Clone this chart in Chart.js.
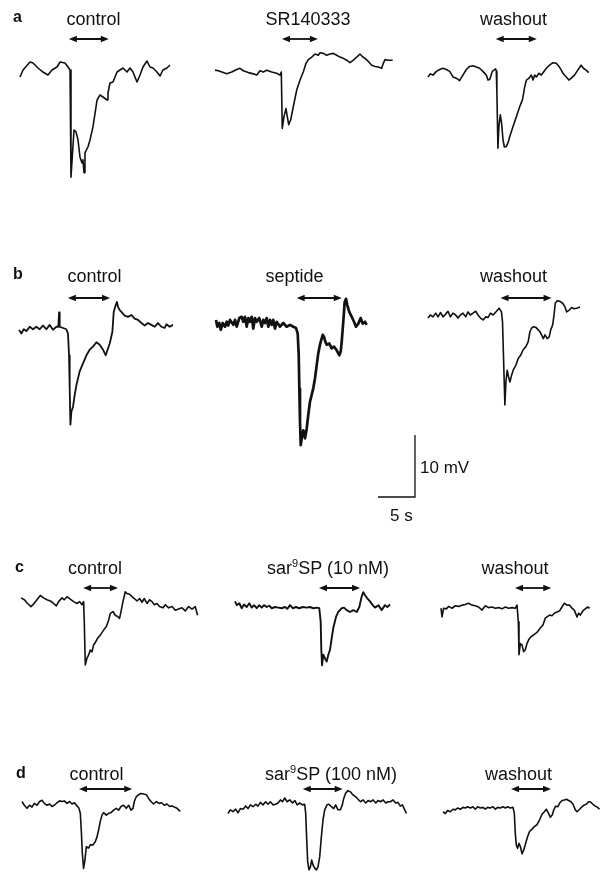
<!DOCTYPE html>
<html>
<head>
<meta charset="utf-8">
<script src="https://cdn.jsdelivr.net/npm/chart.js@4.4.1/dist/chart.umd.min.js"></script>
<style>
  body { margin: 0; background: #fff; }
  #fig { position: relative; width: 600px; height: 872px; overflow: hidden; font-family: "Liberation Sans", Arial, sans-serif; color: #111; }
  #fig canvas { position: absolute; }
  .txt { position: absolute; white-space: nowrap; }
  .sup { position: relative; top: -7px; font-size: 11px; line-height: 0; }
</style>
</head>
<body>
<div id="fig"></div>
<script>
// traces: time in s from trace start, membrane potential in mV from resting level
const a1Time = [0,0.41,1.35,1.76,2.43,3.11,3.78,4.32,5.0,5.41,6.08,6.49,6.76,6.89,7.30,7.57,7.84,8.11,8.38,8.51,8.65,8.78,9.19,9.46,9.86,10.41,10.81,11.22,11.76,11.89,12.16,12.57,13.11,13.51,13.92,14.46,14.86,15.27,15.81,16.22,16.62,17.16,17.57,17.97,18.51,18.92,19.32,19.86,20.27];
const a1Volt = [-1.45,-0.32,0.97,0.81,0,-0.65,-1.13,-0.32,0.16,0.97,0.81,0.16,-0.32,-17.6,-10.0,-10.3,-11.6,-14.4,-15.3,-14.8,-16.9,-13.7,-12.7,-11.6,-9.5,-5.2,-4.35,-4.68,-5.16,-4.03,-2.42,-2.26,-0.65,-0.32,0,-0.65,0,-0.65,-2.26,-1.13,0.16,1.13,0.16,0,-0.65,-1.29,-0.32,0,0.48];

const a2Time = [0,0.45,1.12,1.58,2.26,2.93,3.38,3.82,4.5,5.18,5.64,6.08,6.53,6.99,7.66,8.34,8.78,8.96,9.09,9.32,9.59,9.77,9.96,10.23,10.58,11.04,11.49,11.93,12.3,12.61,13.07,13.51,13.96,14.19,14.64,15.09,15.54,15.99,16.45,16.89,17.34,17.8,18.24,18.69,19.15,19.59,19.91,20.27,20.72,21.18,21.62,22.07,22.53,22.74,22.97,23.42,24.01];
const a2Volt = [0.3,0.2,-0.1,-0.3,0.0,0.4,0.6,0.2,-0.1,-0.3,-0.5,0.2,0.0,0.3,0.0,-0.2,-0.5,0.0,-9.1,-7.2,-5.9,-7.2,-8.5,-7.7,-5.6,-2.9,-1.3,0.0,1.4,2.0,2.4,2.9,2.7,3.1,3.0,2.7,2.9,3.0,2.7,2.4,2.2,1.9,1.5,1.9,2.4,2.9,2.5,2.2,1.7,1.1,0.9,0.8,0.6,1.4,2.0,1.9,1.9];

const a3Time = [0,0.32,0.68,1.13,1.58,2.03,2.48,2.93,3.38,3.82,4.27,4.72,5.18,5.62,6.07,6.53,6.97,7.42,7.88,8.11,8.34,8.69,9.14,9.23,9.31,9.45,9.58,9.77,9.95,10.13,10.32,10.59,10.82,11.05,11.49,11.94,12.39,12.76,13.07,13.3,13.65,13.97,14.19,14.42,14.64,14.99,15.31,15.62,15.99,16.43,16.88,17.34,17.7,18.01,18.24,18.69,19.04,19.36,19.8,20.24,20.69,21.0,21.37,21.72];
const a3Volt = [-0.8,-0.3,-0.5,0.1,0.4,0.6,0.4,0.1,-0.8,-1.0,-1.4,-0.5,0.4,0.9,1.0,0.8,0.6,0.1,-0.5,-1.3,-1.2,0.1,0.5,0.1,-3.4,-12.3,-8.8,-6.9,-8.3,-10.9,-12.1,-12.0,-11.4,-10.4,-8.8,-7.2,-5.6,-4.5,-2.4,-1.3,-1.0,-0.5,-1.3,-0.5,-0.8,-0.2,-0.5,0.0,0.6,1.1,1.5,1.4,0.9,0.3,-0.2,-0.8,-1.3,-1.0,-0.5,0.3,1.1,0.6,0.3,-0.1];

const b1Time = [0,0.32,0.64,1.0,1.45,1.89,2.35,2.8,3.24,3.7,4.15,4.59,5.05,5.32,5.41,5.5,5.95,6.4,6.62,6.76,6.85,6.95,7.08,7.3,7.53,7.76,8.2,8.65,9.11,9.55,10.0,10.46,10.91,11.35,11.72,11.89,12.26,12.62,12.8,13.07,13.24,13.38,13.61,13.84,14.28,14.73,15.19,15.64,16.08,16.54,16.99,17.43,17.89,18.34,18.78,19.24,19.69,19.92,20.36,20.81];
const b1Volt = [-0.3,-0.9,-0.2,-0.5,0.2,-0.2,0.2,-0.2,0.4,-0.2,0.5,-0.3,0.2,0.2,2.5,0.2,0.0,-0.2,-0.9,-4.4,-9.7,-15.6,-13.5,-12.7,-10.8,-9.2,-7.0,-5.7,-4.4,-3.5,-3.0,-2.3,-2.7,-3.5,-4.4,-3.8,-2.5,-0.6,2.6,3.7,4.2,3.4,2.9,2.6,2.0,1.8,2.1,1.5,1.3,0.8,0.4,0.8,0.5,0.2,0.8,0.2,0.0,0.6,0.2,0.5];

const b2Time = [0,0.18,0.45,0.64,0.91,1.22,1.45,1.66,1.89,2.34,2.57,2.8,3.15,3.47,3.69,3.92,4.15,4.37,4.59,4.82,5.04,5.27,5.5,5.85,6.18,6.39,6.62,6.85,7.07,7.3,7.53,7.74,7.97,8.2,8.65,9.09,9.55,10.0,10.45,10.81,11.04,11.18,11.26,11.35,11.45,11.62,11.8,12.03,12.26,12.47,12.7,12.93,13.15,13.38,13.61,13.82,14.05,14.42,14.59,14.77,14.96,15.31,15.63,15.95,16.31,16.66,16.85,16.99,17.2,17.39,17.57,17.74,18.01,18.34,18.65,18.92,19.23,19.55,19.82,20.14,20.36];
const b2Volt = [0.5,-0.6,0.0,-1.1,0.0,-0.6,0.2,-0.4,0.5,-0.3,0.5,-0.6,0.8,1.0,0.2,1.0,-0.6,0.8,0.2,1.0,-0.9,0.8,0.2,0.8,-0.6,0.5,0.0,0.8,-0.6,0.5,-0.3,0.5,-0.9,0.2,-0.6,0.0,-0.6,-0.3,-0.6,-0.8,-1.7,-5.2,-10.6,-15.9,-19.7,-18.3,-17.3,-18.6,-17.0,-14.8,-12.7,-11.6,-10.5,-8.9,-6.8,-4.9,-3.5,-1.9,-2.2,-3.0,-3.5,-3.3,-4.1,-3.8,-4.4,-5.2,-4.6,-3.0,0.2,3.4,3.9,2.9,1.8,1.0,0.2,-0.6,-0.1,0.8,-0.1,0.2,-0.3];

const b3Time = [0,0.32,0.68,1.04,1.35,1.68,2.03,2.35,2.7,3.03,3.38,3.74,4.05,4.38,4.73,5.09,5.41,5.73,6.08,6.45,6.76,7.09,7.45,7.81,8.12,8.45,8.8,9.26,9.61,9.93,10.07,10.26,10.39,10.53,10.7,10.89,11.07,11.3,11.51,11.88,12.19,12.51,12.86,13.23,13.54,13.77,14.0,14.22,14.58,14.89,15.12,15.35,15.58,15.81,16.12,16.39,16.58,16.85,17.03,17.2,17.47,17.84,18.2,18.51,18.74,19.09,19.42,19.73,20.09,20.54];
const b3Volt = [-0.5,0.0,-0.3,0.3,-0.3,0.4,-0.3,0.1,0.6,-0.3,0.3,0.0,-0.5,0.0,0.3,-0.3,0.5,0.0,0.3,0.6,0.0,-0.5,-0.8,-0.3,-0.4,0.3,0.0,0.6,1.1,0.5,-1.1,-9.1,-14.5,-10.8,-8.9,-10.0,-10.8,-9.7,-8.9,-8.1,-7.0,-6.5,-5.6,-5.1,-4.3,-2.7,-2.1,-1.9,-2.0,-2.4,-2.7,-3.2,-3.8,-3.2,-3.8,-3.5,-2.4,-1.6,0.0,1.9,2.3,2.2,1.9,1.3,0.5,0.8,1.2,1.0,1.1,1.3];

const c1Time = [0,0.45,0.89,1.35,1.7,2.16,2.61,3.05,3.51,3.96,4.41,4.77,5.08,5.54,5.85,6.22,6.66,7.11,7.57,7.92,8.24,8.46,8.55,8.69,8.92,9.14,9.36,9.59,9.81,10.04,10.35,10.72,11.16,11.53,11.84,12.07,12.43,12.74,13.05,13.32,13.51,13.78,14.09,14.32,14.68,15.0,15.31,15.68,16.03,16.35,16.66,17.03,17.38,17.7,18.01,18.38,18.73,19.19,19.5,19.95,20.41,20.85,21.3,21.76,22.2,22.65,23.11,23.55,23.86];
const c1Volt = [0.5,0.2,-0.4,-0.9,-0.5,0.2,0.9,0.5,0.2,0.0,-0.4,-0.8,-0.1,0.5,0.2,0.7,0.3,-0.1,-0.4,-0.1,-0.6,-0.1,-3.3,-10.3,-9.2,-8.7,-7.9,-8.2,-7.1,-6.7,-6.0,-5.5,-4.7,-4.1,-3.1,-2.0,-1.7,-2.3,-2.5,-2.8,-1.7,-0.1,1.5,1.2,1.1,0.7,0.4,0.0,0.4,-0.2,0.4,-0.4,0.2,-0.1,-0.6,-0.4,-0.9,-1.1,-0.6,-1.1,-0.9,-1.5,-1.3,-1.1,-1.6,-0.9,-1.3,-0.9,-2.3];

const c2Time = [0,0.23,0.58,0.91,1.22,1.58,1.93,2.26,2.57,2.93,3.28,3.61,3.92,4.28,4.64,4.96,5.41,5.85,6.31,6.76,7.07,7.43,7.8,8.24,8.69,9.15,9.69,10.14,10.58,11.04,11.39,11.58,11.66,11.76,11.93,12.16,12.39,12.61,12.84,13.07,13.28,13.65,13.96,14.42,14.73,15.09,15.54,15.99,16.45,16.8,17.12,17.34,17.57,17.88,18.24,18.61,18.92,19.37,19.82,20.27,20.58,20.95];
const c2Volt = [0.9,0.3,0.6,-0.2,0.4,0.0,0.6,-0.1,0.3,-0.2,0.3,-0.1,0.3,0.0,0.2,-0.2,0.0,-0.1,-0.2,0.0,-0.3,0.3,-0.2,0.0,-0.2,0.0,-0.1,0.0,-0.2,-0.1,-0.2,-2.4,-6.7,-9.4,-7.7,-8.3,-8.8,-7.7,-6.9,-5.0,-3.4,-1.6,-0.8,-0.2,-0.1,-0.5,-0.8,-0.5,-0.8,0.0,1.7,2.4,1.9,1.4,0.9,0.3,-0.1,0.3,-0.5,0.3,0.0,0.4];

const c3Time = [0,0.14,0.35,0.72,1.03,1.49,1.93,2.38,2.84,3.28,3.73,4.19,4.64,5.08,5.54,5.99,6.43,6.89,7.34,7.78,8.24,8.69,9.14,9.59,10.04,10.27,10.45,10.54,10.72,10.95,11.16,11.39,11.62,11.84,12.16,12.51,12.97,13.42,13.78,14.09,14.32,14.68,15.0,15.31,15.68,16.03,16.35,16.66,17.03,17.38,17.7,18.01,18.38,18.6,18.82,19.19,19.5,19.82,20.09];
const c3Volt = [-0.2,-1.6,-0.2,-0.3,0.1,-0.2,0.2,0.1,0.3,0.4,0.6,0.3,0.2,0.0,-0.5,0.2,-0.1,0.0,-0.2,-0.1,-0.3,0.0,-0.2,-0.1,-0.2,0.3,-2.4,-7.7,-5.9,-6.1,-7.2,-6.9,-5.9,-5.3,-4.8,-4.5,-4.1,-3.4,-2.9,-1.8,-1.6,-1.3,-1.4,-1.0,-0.8,-0.6,0.0,0.6,0.3,0.3,-0.2,-0.5,-1.6,-1.0,-1.3,-0.6,-0.3,0.0,-0.2];

const d1Time = [0,0.31,0.68,1.03,1.35,1.66,2.03,2.38,2.7,3.01,3.38,3.73,4.05,4.36,4.73,5.08,5.41,5.72,6.08,6.43,6.76,7.07,7.43,7.7,7.88,8.01,8.15,8.32,8.51,8.69,9.0,9.23,9.59,9.9,10.14,10.35,10.58,10.81,11.03,11.39,11.7,12.03,12.38,12.74,13.05,13.38,13.73,14.09,14.41,14.73,15.0,15.18,15.45,15.76,16.08,16.43,16.8,17.11,17.43,17.78,18.15,18.51,18.86,19.23,19.59,19.95,20.27,20.58,20.95,21.39];
const d1Volt = [0.4,-0.2,-0.7,-0.2,-0.5,0.1,-0.2,0.4,0.6,0.1,-0.2,0.0,-0.4,-0.2,0.2,0.5,0.4,0.5,0.1,0.4,0.0,0.2,-0.3,-0.7,-1.5,-4.2,-7.9,-10.4,-9.0,-6.9,-7.1,-6.6,-6.6,-6.1,-5.3,-4.2,-2.8,-1.8,-1.4,-1.8,-1.5,-1.4,-1.0,-0.7,-1.0,-0.4,-0.2,-0.7,-0.2,-1.0,-0.7,0.4,1.2,1.5,1.7,1.6,1.5,0.9,0.4,0.0,0.4,0.1,0.2,-0.2,0.0,-0.4,-0.3,-0.5,-0.7,-1.2];

const d2Time = [0,0.31,0.68,1.04,1.35,1.68,2.03,2.39,2.7,3.03,3.38,3.74,4.05,4.38,4.73,5.09,5.41,5.73,6.08,6.45,6.76,7.09,7.36,7.68,7.99,8.35,8.72,9.03,9.34,9.69,10.05,10.36,10.5,10.64,10.77,10.95,11.14,11.31,11.49,11.72,11.95,12.16,12.39,12.62,12.84,13.07,13.38,13.65,13.97,14.28,14.55,14.86,15.18,15.45,15.63,15.9,16.22,16.54,16.89,17.26,17.57,17.9,18.26,18.62,18.93,19.26,19.61,19.97,20.28,20.61,20.96,21.32,21.62,21.95,22.3,22.66,22.97,23.29,23.57,23.88,24.11];
const d2Volt = [-1.7,-1.1,-1.4,-1.0,-1.6,-0.9,-1.0,-0.5,-0.9,-0.3,-0.6,-0.2,-0.5,0.1,-0.3,0.2,-0.2,0.2,-0.3,-0.2,0.0,0.5,0.2,0.8,0.2,0.5,0.0,0.4,-0.3,0.0,-0.3,-0.2,-1.7,-6.0,-9.5,-10.8,-10.3,-9.2,-10.0,-10.5,-10.8,-10.3,-8.7,-5.4,-2.7,-1.1,-0.3,-0.2,-0.6,-0.9,-0.3,-1.1,-1.1,-0.3,0.7,1.6,2.0,1.8,1.3,1.0,0.6,0.2,0.5,0.0,0.4,0.2,0.5,0.0,0.4,0.2,0.5,0.0,0.2,0.2,0.5,0.0,0.1,-0.5,-0.3,-1.1,-1.7];

const d3Time = [0,0.31,0.62,0.99,1.35,1.66,1.97,2.34,2.7,3.01,3.32,3.69,4.05,4.36,4.68,5.04,5.41,5.72,6.03,6.39,6.76,7.07,7.38,7.74,8.11,8.42,8.73,9.09,9.46,9.64,9.77,9.91,10.08,10.27,10.45,10.68,10.9,11.17,11.44,11.7,12.03,12.34,12.7,13.05,13.38,13.69,13.96,14.28,14.51,14.78,14.96,15.23,15.5,15.77,16.09,16.4,16.67,16.98,17.3,17.57,17.88,18.11,18.46,18.78,19.09,19.36,19.67,19.9,20.27,20.58,20.89,21.16];
const d3Volt = [-0.6,-0.9,-0.4,-0.6,-0.2,-0.3,0.0,-0.2,0.1,0.0,0.2,0.0,0.2,-0.2,0.2,0.0,0.1,-0.2,0.1,0.0,0.2,-0.2,0.1,0.0,0.2,0.0,0.2,0.0,0.1,-0.9,-4.1,-6.0,-6.5,-5.7,-6.2,-7.4,-6.8,-5.7,-4.6,-3.8,-3.4,-3.0,-2.7,-1.9,-1.0,-0.6,-0.2,-0.9,-1.5,-1.1,-0.3,0.3,0.2,0.8,1.2,1.3,1.4,1.2,1.0,0.6,-0.3,-0.6,-0.2,0.2,0.5,0.6,1.0,1.0,0.6,0.3,0.1,-0.2];

// panels in order a1 a2 a3 b1 ... d3
const panelTitles = ['control', 'SR140333', 'washout',
                     'control', 'septide', 'washout',
                     'control', 'sar<span class="sup">9</span>SP (10 nM)', 'washout',
                     'control', 'sar<span class="sup">9</span>SP (100 nM)', 'washout'];
const drugOnset  = [6.6, 9.05, 9.15, 6.6, 10.9, 9.8, 8.4, 11.35, 10.0, 7.7, 10.1, 9.2];
const drugOffset = [12.0, 13.9, 14.7, 12.3, 17.0, 16.7, 13.1, 16.9, 14.9, 14.9, 15.5, 14.6];
const rowLetters = ['a', 'b', 'c', 'd'];
const scaleBarSeconds = 5;
const scaleBarMillivolts = 10;

const traces = [
  [a1Time, a1Volt], [a2Time, a2Volt], [a3Time, a3Volt],
  [b1Time, b1Volt], [b2Time, b2Volt], [b3Time, b3Volt],
  [c1Time, c1Volt], [c2Time, c2Volt], [c3Time, c3Volt],
  [d1Time, d1Volt], [d2Time, d2Volt], [d3Time, d3Volt],
];

// page layout (px)
const PX_PER_S = 7.4;
const PX_PER_MV = 6.2;
const rows = [
  {top: 0,   bottom: 190, arrowY: 39,  titleBase: 25,  letterX: 13, letterBase: 23},
  {top: 255, bottom: 460, arrowY: 298, titleBase: 282, letterX: 13, letterBase: 280},
  {top: 550, bottom: 700, arrowY: 588, titleBase: 574, letterX: 15, letterBase: 573},
  {top: 755, bottom: 872, arrowY: 789, titleBase: 780, letterX: 16, letterBase: 779},
];
const panels = [
  {x0: 20,    rest: 68,  titleX: 93.5},
  {x0: 215,   rest: 72,  titleX: 308},
  {x0: 428.3, rest: 72,  titleX: 513.5},
  {x0: 19.3,  rest: 328, titleX: 94.5, width: 1.8},
  {x0: 216,   rest: 323, titleX: 294.5, width: 2.7},
  {x0: 428.3, rest: 315, titleX: 513.5},
  {x0: 20.7,  rest: 601, titleX: 95},
  {x0: 235,   rest: 607, titleX: 328, width: 1.9},
  {x0: 440.7, rest: 607, titleX: 515},
  {x0: 21.7,  rest: 804, titleX: 96.5},
  {x0: 228.3, rest: 803, titleX: 331},
  {x0: 442.7, rest: 808, titleX: 518.5},
];

const fig = document.getElementById('fig');

function addText(html, x, baseline, size, bold, center) {
  const el = document.createElement('div');
  el.className = 'txt';
  el.innerHTML = html;
  el.style.fontSize = size + 'px';
  el.style.lineHeight = size + 'px';
  el.style.fontWeight = bold ? 'bold' : 'normal';
  el.style.top = (baseline - 0.8465 * size) + 'px';
  el.style.left = x + 'px';
  if (center) el.style.transform = 'translateX(-50%)';
  fig.appendChild(el);
}

function makeCanvas(left, top, w, h) {
  const cv = document.createElement('canvas');
  cv.width = w;
  cv.height = h;
  cv.style.left = left + 'px';
  cv.style.top = top + 'px';
  cv.style.width = w + 'px';
  cv.style.height = h + 'px';
  fig.appendChild(cv);
  return cv;
}

function baseOptions(xmin, xmax, ymin, ymax) {
  return {
    responsive: false,
    animation: false,
    events: [],
    layout: {padding: 0},
    plugins: {legend: {display: false}, tooltip: {enabled: false}},
    scales: {
      x: {type: 'linear', display: false, min: xmin, max: xmax},
      y: {type: 'linear', display: false, min: ymin, max: ymax},
    },
  };
}

// double-headed arrow marking drug application
function arrowPlugin(on, off, level) {
  return {
    id: 'drugArrow',
    afterDatasetsDraw(chart) {
      const ctx = chart.ctx;
      const x1 = chart.scales.x.getPixelForValue(on);
      const x2 = chart.scales.x.getPixelForValue(off);
      const y = chart.scales.y.getPixelForValue(level);
      ctx.save();
      ctx.strokeStyle = '#111';
      ctx.fillStyle = '#111';
      ctx.lineWidth = 1.8;
      ctx.beginPath();
      ctx.moveTo(x1 + 4, y);
      ctx.lineTo(x2 - 4, y);
      ctx.stroke();
      ctx.beginPath();
      ctx.moveTo(x1, y);
      ctx.lineTo(x1 + 8, y - 3.3);
      ctx.lineTo(x1 + 8, y + 3.3);
      ctx.closePath();
      ctx.moveTo(x2, y);
      ctx.lineTo(x2 - 8, y - 3.3);
      ctx.lineTo(x2 - 8, y + 3.3);
      ctx.closePath();
      ctx.fill();
      ctx.restore();
    }
  };
}

traces.forEach(([time, volt], i) => {
  const p = panels[i];
  const r = rows[Math.floor(i / 3)];
  const pad = 6;
  const w = Math.round(time[time.length - 1] * PX_PER_S + 2 * pad);
  const h = r.bottom - r.top;
  const cv = makeCanvas(p.x0 - pad, r.top, w, h);
  const xmin = -pad / PX_PER_S;
  const ymax = (p.rest - r.top) / PX_PER_MV;
  const n = Math.min(time.length, volt.length);
  const pts = [];
  for (let k = 0; k < n; k++) pts.push({x: time[k], y: volt[k]});
  new Chart(cv, {
    type: 'line',
    data: {datasets: [{
      data: pts,
      borderColor: '#111',
      borderWidth: p.width || 1.6,
      pointRadius: 0,
      tension: 0,
      fill: false,
      borderJoinStyle: 'round',
    }]},
    options: baseOptions(xmin, xmin + w / PX_PER_S, ymax - h / PX_PER_MV, ymax),
    plugins: [arrowPlugin(drugOnset[i], drugOffset[i], (p.rest - r.arrowY) / PX_PER_MV)],
  });
  addText(panelTitles[i], p.titleX, r.titleBase, 18, false, true);
});

rows.forEach((r, j) => addText(rowLetters[j], r.letterX, r.letterBase, 16, true, false));

// calibration bar: 5 s horizontal, 10 mV vertical
(function () {
  const left = 370, top = 428, w = 52, h = 76;
  const originX = 378, originY = 497;
  const cv = makeCanvas(left, top, w, h);
  const xmin = -(originX - left) / PX_PER_S;
  const ymax = (originY - top) / PX_PER_MV;
  new Chart(cv, {
    type: 'line',
    data: {datasets: [{
      data: [{x: 0, y: 0}, {x: scaleBarSeconds, y: 0}, {x: scaleBarSeconds, y: scaleBarMillivolts}],
      borderColor: '#111',
      borderWidth: 1.3,
      pointRadius: 0,
      tension: 0,
      borderCapStyle: 'butt',
    }]},
    options: baseOptions(xmin, xmin + w / PX_PER_S, ymax - h / PX_PER_MV, ymax),
  });
  addText(scaleBarMillivolts + ' mV', 420, 473, 17, false, false);
  addText(scaleBarSeconds + ' s', 390, 521, 17, false, false);
})();
</script>
</body>
</html>
